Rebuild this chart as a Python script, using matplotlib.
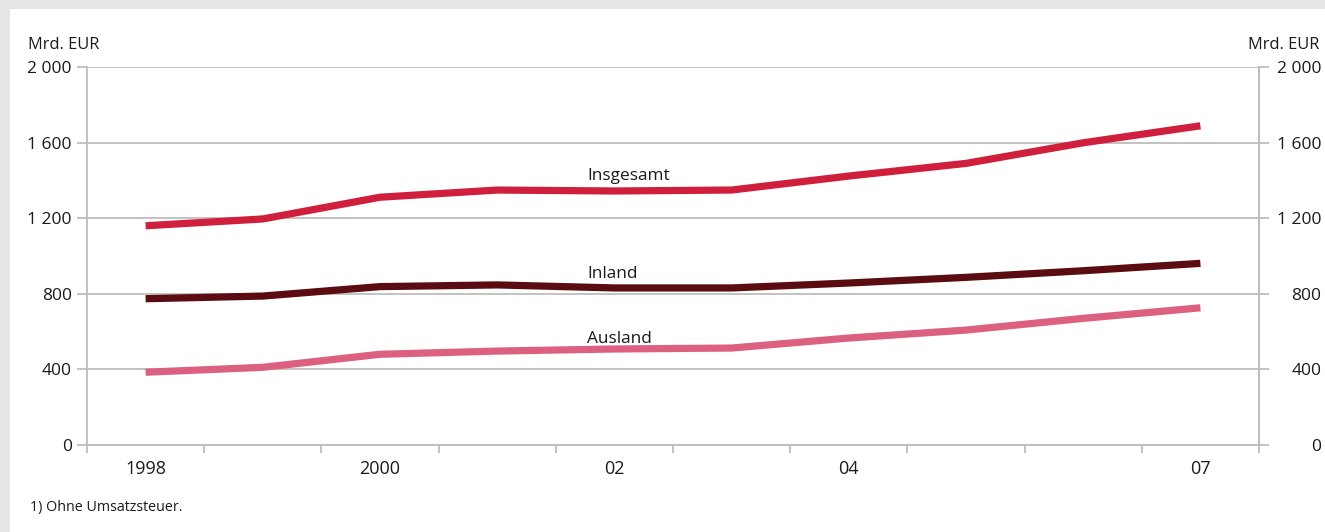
import matplotlib
matplotlib.use("Agg")
import matplotlib.pyplot as plt
from matplotlib.patches import Rectangle
from matplotlib.ticker import FixedLocator, FuncFormatter

plt.rcParams["font.family"] = ["Open Sans", "DejaVu Sans"]

YEARS = [1998, 1999, 2000, 2001, 2002, 2003, 2004, 2005, 2006, 2007]
YEAR_LABELS = {1998: "1998", 2000: "2000", 2002: "02", 2004: "04", 2007: "07"}
INSGESAMT = [1160, 1196, 1311, 1349, 1344, 1349, 1423, 1490, 1599, 1689]
INLAND = [774, 788, 838, 847, 831, 831, 857, 887, 922, 961]
AUSLAND = [385, 411, 480, 497, 508, 513, 566, 608, 670, 726]
Y_TICKS = [0, 400, 800, 1200, 1600, 2000]

RED = "#d01f3c"
DARK = "#5a0c10"
PINK = "#dc6180"
GRID = "#bdbdbd"
INK = "#1a1a1a"

W, H = 1325, 532
fig = plt.figure(figsize=(W / 100, H / 100), dpi=100, facecolor="#e6e6e6")
fig.add_artist(Rectangle((10 / W, 0), 1, (H - 9) / H, transform=fig.transFigure,
                         fc="white", ec="none", zorder=0))

ax = fig.add_axes([87 / W, 1 - 445 / H, (1259 - 87) / W, (445 - 67) / H])
ax.set_facecolor("none")
x = list(range(len(YEARS)))
for vals, col in ((INSGESAMT, RED), (INLAND, DARK), (AUSLAND, PINK)):
    ax.plot(x, vals, color=col, lw=5.2, solid_capstyle="butt",
            solid_joinstyle="round", zorder=3)

ax.text(3.77, 1424, "Insgesamt", fontsize=12.4, color=INK, va="center", ha="left")
ax.text(3.77, 905, "Inland", fontsize=12.4, color=INK, va="center", ha="left")
ax.text(3.77, 563, "Ausland", fontsize=12.4, color=INK, va="center", ha="left")

ax.set_xlim(-0.5, len(YEARS) - 0.5)
ax.set_ylim(0, 2000)
ax.xaxis.set_major_locator(FixedLocator([i - 0.5 for i in range(len(YEARS) + 1)]))
ax.xaxis.set_major_formatter(FuncFormatter(lambda v, p: ""))
lab_pos = [YEARS.index(y) for y in YEAR_LABELS]
ax.xaxis.set_minor_locator(FixedLocator(lab_pos))
ax.xaxis.set_minor_formatter(FuncFormatter(lambda v, p: YEAR_LABELS[YEARS[int(round(v))]]))
ax.tick_params(axis="x", which="major", length=6, width=1.3, color=GRID, direction="out")
ax.tick_params(axis="x", which="minor", length=0, pad=11, labelsize=13, labelcolor=INK)

fmt = FuncFormatter(lambda v, p: f"{int(v):,}".replace(",", " "))
ax.set_yticks(Y_TICKS)
ax.yaxis.set_major_formatter(fmt)
ax.tick_params(axis="y", length=7, width=1.3, color=GRID, pad=4,
               labelsize=12.5, labelcolor=INK)
ax.grid(axis="y", color=GRID, lw=1.3, zorder=1)

ax.spines["top"].set_visible(False)
for s in ("left", "right", "bottom"):
    ax.spines[s].set_color(GRID)
    ax.spines[s].set_linewidth(1.3)

ax2 = ax.twinx()
ax2.set_ylim(0, 2000)
ax2.set_yticks(Y_TICKS)
ax2.yaxis.set_major_formatter(fmt)
ax2.tick_params(axis="y", length=7, width=1.3, color=GRID, pad=38,
                labelsize=12.5, labelcolor=INK)
for lbl in ax2.get_yticklabels():
    lbl.set_horizontalalignment("right")
for s in ("top", "left", "bottom"):
    ax2.spines[s].set_visible(False)
ax2.spines["right"].set_color(GRID)
ax2.spines["right"].set_linewidth(1.3)

fig.text(28 / W, 1 - 45 / H, "Mrd. EUR", fontsize=11.8, color=INK, ha="left", va="center")
fig.text(1319 / W, 1 - 45 / H, "Mrd. EUR", fontsize=11.8, color=INK, ha="right", va="center")
fig.text(30 / W, 1 - 508 / H, "1) Ohne Umsatzsteuer.", fontsize=10.3, color=INK,
         ha="left", va="center")

fig.savefig("out.png", dpi=100, facecolor=fig.get_facecolor())
